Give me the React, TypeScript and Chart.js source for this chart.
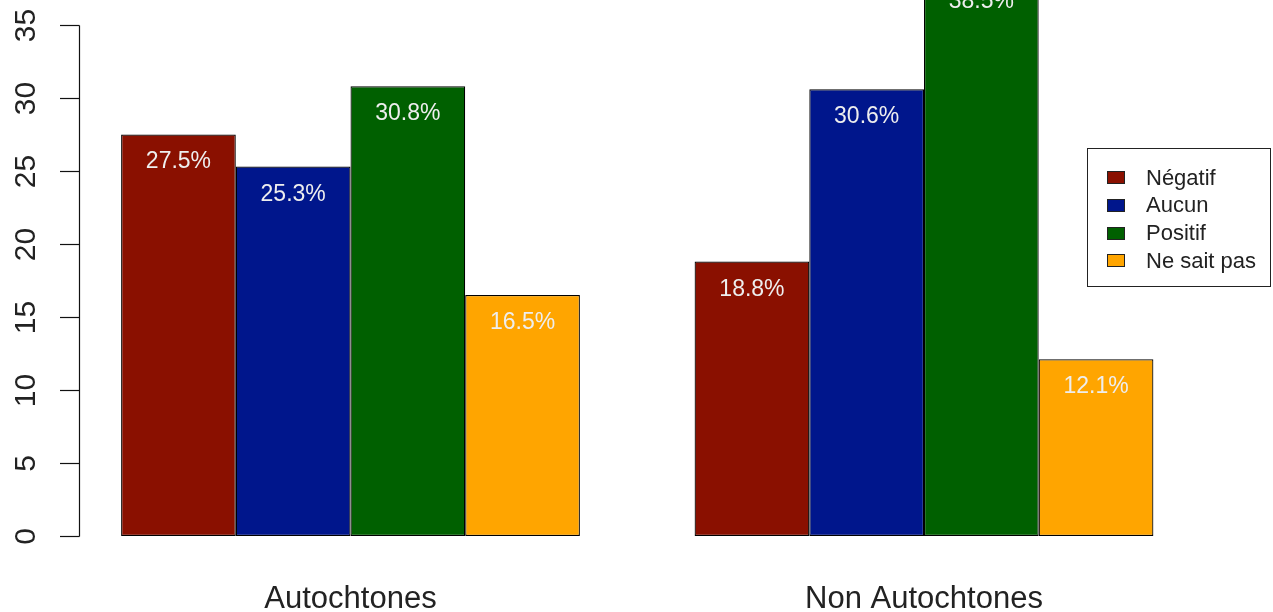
import React, { useEffect, useRef } from "react";
import { Chart, registerables } from "chart.js";

Chart.register(...registerables);

const categories = ["Autochtones", "Non Autochtones"];
const seriesNames = ["Négatif", "Aucun", "Positif", "Ne sait pas"];
const negatif = [27.5, 18.8];
const aucun = [25.3, 30.6];
const positif = [30.8, 38.5];
const neSaitPas = [16.5, 12.1];
const yTicks = [0, 5, 10, 15, 20, 25, 30, 35];
const colors = ["#8a1000", "#00168c", "#006000", "#ffa500"];

const FONT = "'Liberation Sans', Arial, Helvetica, sans-serif";

const customDraw = {
  id: "customDraw",
  afterDatasetsDraw(chart: any) {
    const ctx = chart.ctx;
    const y = chart.scales.y;
    const x = chart.scales.x;
    ctx.save();
    // value labels
    ctx.fillStyle = "#eeeeee";
    ctx.font = `23px ${FONT}`;
    ctx.textAlign = "center";
    ctx.textBaseline = "alphabetic";
    chart.data.datasets.forEach((ds: any, di: number) => {
      const meta = chart.getDatasetMeta(di);
      meta.data.forEach((bar: any, i: number) => {
        const v = ds.data[i];
        ctx.fillText(v.toFixed(1) + "%", bar.x, bar.y + 34);
      });
    });
    // y axis
    ctx.strokeStyle = "#111";
    ctx.lineWidth = 1.2;
    const axX = 79.5;
    const y0 = Math.round(y.getPixelForValue(yTicks[0])) + 0.5;
    const y1 = Math.round(y.getPixelForValue(yTicks[yTicks.length - 1])) + 0.5;
    ctx.beginPath();
    ctx.moveTo(axX, y0);
    ctx.lineTo(axX, y1);
    ctx.stroke();
    ctx.fillStyle = "#222";
    ctx.font = `30px ${FONT}`;
    yTicks.forEach((t) => {
      const py = Math.round(y.getPixelForValue(t)) + 0.5;
      ctx.beginPath();
      ctx.moveTo(60, py);
      ctx.lineTo(axX, py);
      ctx.stroke();
      ctx.save();
      ctx.translate(35, py);
      ctx.rotate(-Math.PI / 2);
      ctx.textAlign = "center";
      ctx.textBaseline = "alphabetic";
      ctx.fillText(String(t), 0, 0);
      ctx.restore();
    });
    // category labels
    ctx.font = `31px ${FONT}`;
    ctx.textAlign = "center";
    ctx.textBaseline = "alphabetic";
    categories.forEach((c, i) => {
      ctx.fillText(c, x.getPixelForValue(i), 608);
    });
    // legend
    ctx.fillStyle = "#ffffff";
    ctx.fillRect(1087, 148, 183, 138);
    ctx.strokeStyle = "#222";
    ctx.lineWidth = 1;
    ctx.strokeRect(1087.5, 148.5, 183, 138);
    ctx.font = `22px ${FONT}`;
    ctx.textAlign = "left";
    ctx.textBaseline = "middle";
    seriesNames.forEach((n, i) => {
      const cy = 177.5 + i * 27.8;
      ctx.fillStyle = colors[i];
      ctx.fillRect(1107, Math.round(cy - 6.5), 18, 13);
      ctx.strokeStyle = "#222";
      ctx.strokeRect(1107.5, Math.round(cy - 6.5) + 0.5, 17, 12);
      ctx.fillStyle = "#222";
      ctx.fillText(n, 1146, cy + 1);
    });
    ctx.restore();
  },
};

export default function App() {
  const ref = useRef<HTMLCanvasElement | null>(null);
  useEffect(() => {
    document.body.style.margin = "0";
    if (!ref.current) return;
    const series = [negatif, aucun, positif, neSaitPas];
    const chart = new Chart(ref.current, {
      type: "bar",
      data: {
        labels: categories,
        datasets: series.map((d, i) => ({
          label: seriesNames[i],
          data: d,
          backgroundColor: colors[i],
          borderColor: "#000",
          borderWidth: 1.2,
          borderSkipped: false,
          categoryPercentage: 0.8,
          barPercentage: 1,
          clip: { left: 5, top: 0, right: 5, bottom: 5 },
        })),
      },
      options: {
        responsive: false,
        animation: false,
        devicePixelRatio: 1,
        layout: { padding: { left: 63.75, right: 62.25, top: 0, bottom: 76 } },
        plugins: { legend: { display: false }, tooltip: { enabled: false } },
        scales: {
          x: { display: false, offset: true },
          y: { display: false, min: 0, max: 36.71 },
        },
      } as any,
      plugins: [customDraw],
    });
    return () => chart.destroy();
  }, []);
  return (
    <div style={{ position: "absolute", left: 0, top: 0, width: 1273, height: 612, background: "#fff" }}>
      <canvas ref={ref} width={1273} height={612} style={{ display: "block" }} />
    </div>
  );
}
